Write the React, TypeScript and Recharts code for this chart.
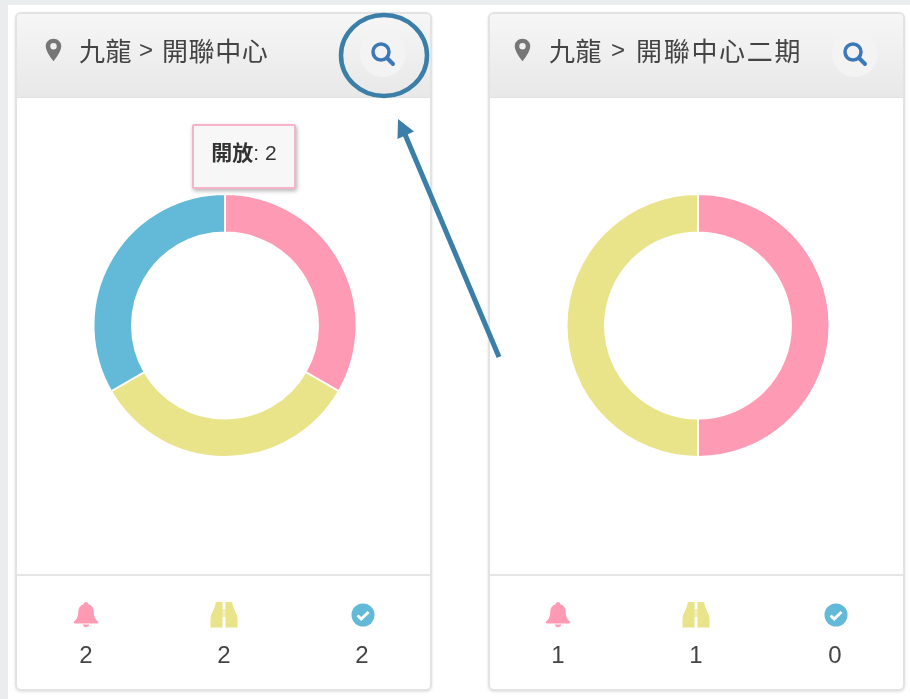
import React from "react";
import {Cell, Pie, PieChart} from "recharts";

const statusNames = ["開放", "跟進", "完成"];
const statusColors = ["#FF9AB5", "#E9E389", "#62B9D8"];
const leftValues = [2, 2, 2];
const rightValues = [1, 1, 0];
const regionName = "九龍";
const leftTitle = "開聯中心";
const rightTitle = "開聯中心二期";

const toRows = (values: number[]) => statusNames.map((name, i) => ({name, value: values[i]}));

const Bell = ({color}: {color: string}) => (
    <svg width="26" height="27" viewBox="0 0 26 27">
        <path d="M13 1c1.400 0 2.300 1 2.300 2.200 3.600 1 5.400 4 5.400 7.600 0 4.600 1.600 8 4.600 10.200 0 .9-.6 1.500-1.500 1.500H2.200C1.300 22.500.7 21.900.7 21c3-2.200 4.600-5.600 4.600-10.200 0-3.600 1.800-6.600 5.400-7.600C10.700 2 11.600 1 13 1z" fill={color}/>
        <path d="M9.800 23.500h6.400c-.3 1.700-1.600 2.800-3.200 2.800s-2.900-1.100-3.200-2.800z" fill={color}/>
    </svg>
);

const Binoculars = ({color}: {color: string}) => (
    <svg width="28" height="27" viewBox="0 0 28 27">
        <path d="M6 1h6.500v25.500H0.500V18C0.500 13 4.500 9 6 1z" fill={color}/>
        <path d="M22 1h-6.500v25.500H27.500V18C27.500 13 23.500 9 22 1z" fill={color}/>
        <rect x="12" y="8" width="4" height="8" fill={color} opacity="0.6"/>
    </svg>
);

const Check = ({color}: {color: string}) => (
    <svg width="24" height="24" viewBox="0 0 24 24" style={{position: "relative", left: 1}}>
        <circle cx="12" cy="12" r="11.500" fill={color}/>
        <path d="M6.500 12.500l3.700 3.500 7.300-7" fill="none" stroke="#fff" strokeWidth="3"/>
    </svg>
);

const Pin = ({left}: {left: number}) => (
    <svg width="17" height="24" viewBox="0 0 18 25" style={{position: "absolute", left, top: 24}}>
        <path fillRule="evenodd" d="M9 0.500c4.600 0 8.200 3.500 8.200 8 0 4.700-4.500 11-8.200 16-3.700-5-8.200-11.300-8.200-16 0-4.500 3.600-8 8.200-8zm0 4.600a3.400 3.400 0 1 0 0 6.800 3.400 3.400 0 0 0 0-6.800z" fill="#767676"/>
    </svg>
);

const SearchButton = ({left}: {left: number}) => (
    <div style={{position: "absolute", left, top: 17, width: 46, height: 46, borderRadius: 23, background: "#F3F3F3"}}>
        <svg width="46" height="46" viewBox="0 0 46 46">
            <circle cx="21" cy="21" r="8" fill="none" stroke="#3C78B8" strokeWidth="3.500"/>
            <path d="M27 27l6 6" stroke="#3C78B8" strokeWidth="4" strokeLinecap="round"/>
        </svg>
    </div>
);

interface CardProps {
    left: number,
    values: number[],
    title: string,
    titleLeft: number,
    regionLeft: number,
    pinLeft: number,
    gtLeft: number,
    spacing: number,
    searchLeft: number,
    pieCenter: number,
    footerCenters: number[]
}

const Card: React.FC<CardProps> = ({left, values, title, titleLeft, regionLeft, pinLeft, gtLeft, spacing, searchLeft, pieCenter, footerCenters}) => {
    const icons = [<Bell color={statusColors[0]}/>, <Binoculars color={statusColors[1]}/>, <Check color={statusColors[2]}/>];
    const titleStyle: React.CSSProperties = {
        position: "absolute", top: 19, lineHeight: "34px", fontSize: 26, color: "#444",
        fontFamily: "'Noto Sans CJK TC'", whiteSpace: "nowrap"
    };
    return <div style={{
        position: "absolute", left, top: 12, width: 417, height: 679, boxSizing: "border-box",
        border: "2px solid #E3E3E3", borderRadius: 6, background: "#fff", boxShadow: "0 1px 3px rgba(0,0,0,.12)"
    }}>
        <div style={{
            position: "absolute", left: 0, top: 0, right: 0, height: 83, borderRadius: "4px 4px 0 0",
            background: "linear-gradient(#F6F6F6, #E8E8E8)", borderBottom: "1px solid #E2E2E2"
        }}>
            <Pin left={pinLeft}/>
            <span style={{...titleStyle, left: regionLeft, letterSpacing: 0.500}}>{regionName}</span>
            <span style={{...titleStyle, left: gtLeft, fontSize: 24, fontFamily: "'Liberation Sans'"}}>&gt;</span>
            <span style={{...titleStyle, left: titleLeft, letterSpacing: spacing}}>{title}</span>
            <SearchButton left={searchLeft}/>
        </div>
        <div style={{position: "absolute", left: pieCenter - left - 2 - 150, top: 161, width: 300, height: 300}}>
            <PieChart width={300} height={300} margin={{top: 0, right: 0, bottom: 0, left: 0}}>
                <Pie
                    data={toRows(values)}
                    dataKey="value"
                    nameKey="name"
                    cx={150}
                    cy={150.500}
                    innerRadius={93}
                    outerRadius={131.500}
                    startAngle={90}
                    endAngle={-270}
                    stroke="#fff"
                    strokeWidth={2}
                    isAnimationActive={false}
                >
                    {statusNames.map((name, i) => <Cell key={name} fill={statusColors[i]}/>)}
                </Pie>
            </PieChart>
        </div>
        <div style={{position: "absolute", left: 0, right: 0, top: 560, borderTop: "2px solid #E6E6E6"}}/>
        {footerCenters.map((center, i) => <div key={i} style={{
            position: "absolute", left: center - left - 2 - 40, top: 587, width: 80, textAlign: "center"
        }}>
            <div style={{height: 27, lineHeight: 0, paddingTop: i === 2 ? 2 : 0, boxSizing: "border-box"}}>{icons[i]}</div>
            <div style={{
                marginTop: 13, fontFamily: "'Liberation Sans'", fontSize: 24, lineHeight: "28px", color: "#444"
            }}>{values[i]}</div>
        </div>)}
    </div>
};

const App = () => {
    return <div style={{position: "absolute", left: 0, top: 0, width: 910, height: 699, background: "#fff", overflow: "hidden"}}>
        <div style={{position: "absolute", left: 0, top: 0, width: 910, height: 5, background: "#E9EDEE"}}/>
        <div style={{position: "absolute", left: 0, top: 0, width: 8, height: 699, background: "#E9EDEE"}}/>
        <div style={{position: "absolute", left: 0, top: 0, width: 910, height: 699, filter: "blur(0.5px)"}}>
            <Card left={15} values={leftValues} title={leftTitle} titleLeft={145} regionLeft={62} pinLeft={28} gtLeft={122}
                  spacing={0.600} searchLeft={343} pieCenter={224.500} footerCenters={[86, 224, 362]}/>
            <Card left={488} values={rightValues} title={rightTitle} titleLeft={146} regionLeft={59} pinLeft={24} gtLeft={121}
                  spacing={1.700} searchLeft={342} pieCenter={698} footerCenters={[558, 696, 835]}/>
            <div style={{
                position: "absolute", left: 192, top: 124, width: 104, height: 65, boxSizing: "border-box",
                border: "2px solid #F7B3C8", borderRadius: 2, background: "#F7F7F7", boxShadow: "1px 2px 4px rgba(0,0,0,.3)",
                textAlign: "center", lineHeight: "50px", fontSize: 21, color: "#333", fontFamily: "'Liberation Sans'"
            }}>
                <b style={{fontFamily: "'Noto Sans CJK TC'"}}>{statusNames[0]}</b>: {leftValues[0]}
            </div>
            <svg width="910" height="699" style={{position: "absolute", left: 0, top: 0}}>
                <ellipse cx="384" cy="55.500" rx="43" ry="40.500" fill="none" stroke="#3B7EA8" strokeWidth="4.500"/>
                <line x1="499" y1="357" x2="404" y2="132" stroke="#3B7EA8" strokeWidth="5"/>
                <polygon points="398,119 397.500,139 414,131.500" fill="#3B7EA8"/>
            </svg>
        </div>
    </div>
};

export default App
